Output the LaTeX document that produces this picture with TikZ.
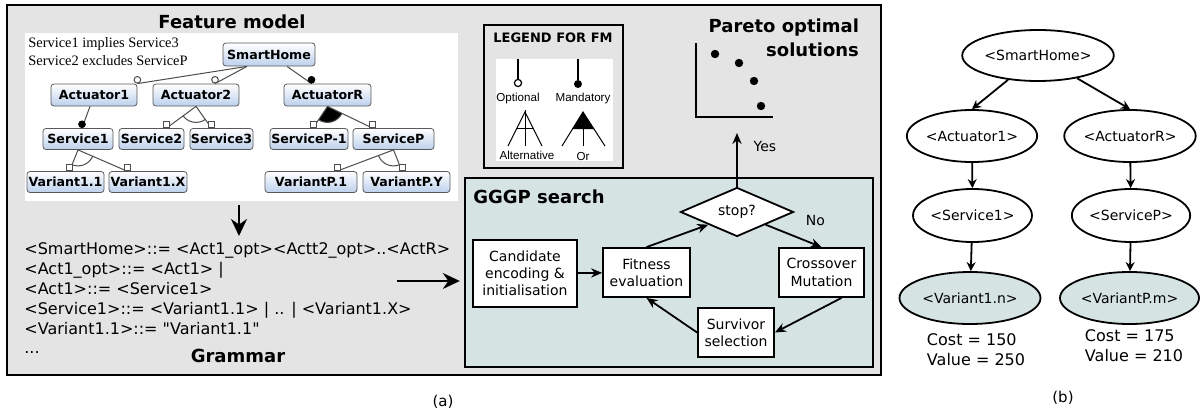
\documentclass[tikz,border=0pt]{standalone}
\usepackage{fontspec}
\setmainfont{DejaVu Sans}
\newfontfamily\constrfont{Liberation Serif}
\newfontfamily\legendfont{Liberation Sans}
\usepackage{tikz}
\usetikzlibrary{shapes.geometric,arrows.meta,calc,positioning}

\definecolor{framegray}{HTML}{E4E4E4}
\definecolor{searchfill}{HTML}{D6E3E3}
\definecolor{fmblue}{HTML}{BCD0EC}
\definecolor{fmedge}{HTML}{4D4D4D}

\tikzset{
  feat/.style={draw=black!65, rounded corners=1.5pt, top color=white, bottom color=fmblue,
    font=\bfseries\fontsize{6.3}{7}\selectfont, inner xsep=0pt, inner ysep=0pt, minimum height=10.5pt},
  fmline/.style={draw=fmedge, line width=0.5pt},
  optc/.style={circle, draw=fmedge, fill=white, line width=0.5pt, inner sep=0pt, minimum size=3.3pt, anchor=south},
  mandc/.style={optc, fill=black, draw=black},
  fmsq/.style={rectangle, draw=fmedge, fill=white, line width=0.5pt, inner sep=0pt, minimum size=3pt, anchor=south},
  title/.style={font=\bfseries\fontsize{9}{12}\selectfont},
  flow/.style={draw, line width=0.9pt, fill=white, align=center, font=\fontsize{7}{8.6}\selectfont, inner sep=1pt},
  flowarr/.style={-{Stealth[length=5.5pt,width=4.6pt]}, line width=0.9pt},
  bigarr/.style={-{Stealth[length=8.5pt,width=8pt]}, line width=0.9pt},
  deriv/.style={ellipse, draw, line width=0.9pt, fill=white, inner sep=0pt, font=\fontsize{7}{8.4}\selectfont},
  leaf/.style={deriv, fill=searchfill},
  treearr/.style={-{Stealth[length=4.5pt,width=4.5pt]}, line width=0.9pt},
  legtxt/.style={font=\legendfont\fontsize{5.8}{7}\selectfont, inner sep=0pt},
}

% arc (alternative) or filled sector (or) under a parent, then the two legs
\newcommand{\fmgroup}[4][draw]{%
  \begin{scope}
    \clip (#2) -- (#3) -- (#4) -- cycle;
    \path[fmline, #1] (#2) circle[radius=8pt];
  \end{scope}
  \draw[fmline] (#2) -- (#3) node[fmsq] {};
  \draw[fmline] (#2) -- (#4) node[fmsq] {};
}

\begin{document}
\lineskiplimit=-10pt
\begin{tikzpicture}[x=0.5pt, y=-0.5pt]
\useasboundingbox (0,0) rectangle (1200,412);

% part (a)
\draw[line width=1.2pt, fill=framegray] (7,5) rectangle (881,375);
\node[fill=white, minimum width=216.5pt, minimum height=84pt, inner sep=0pt] (fmarea) at (241.5,117) {};
\node[title] (fmtitle) at (232,22) {Feature model};
\node[font=\constrfont\fontsize{7.2}{9}\selectfont, align=left, anchor=west, inner sep=0pt] (constr) at (28,52)
  {Service1 implies Service3\\Service2 excludes ServiceP};

% feature model
\node[feat, minimum width=46pt, minimum height=11.5pt] (home) at (269,54.5) {SmartHome};
\node[feat, minimum width=43pt, minimum height=11pt] (act1) at (94,95) {Actuator1};
\node[feat, minimum width=43pt, minimum height=11pt] (act2) at (196,95) {Actuator2};
\node[feat, minimum width=43.5pt, minimum height=11pt] (actR) at (327.5,95) {ActuatorR};
\node[feat, minimum width=35pt] (srv1) at (78,139) {Service1};
\node[feat, minimum width=32.5pt] (srv2) at (151.5,139) {Service2};
\node[feat, minimum width=31.5pt] (srv3) at (221.5,139) {Service3};
\node[feat, minimum width=39pt] (srvP1) at (309,139) {ServiceP-1};
\node[feat, minimum width=40.5pt] (srvP) at (393.5,139) {ServiceP};
\node[feat, minimum width=38.5pt] (var11) at (65.5,182) {Variant1.1};
\node[feat, minimum width=39pt] (var1X) at (148,182) {Variant1.X};
\node[feat, minimum width=46pt] (varP1) at (311,182) {VariantP.1};
\node[feat, minimum width=43.5pt] (varPY) at (406.5,182) {VariantP.Y};

\draw[fmline] ($(home.south)+(-22,0)$) -- (act1.north east) node[optc] {};
\draw[fmline] ($(home.south)+(-22,0)$) -- ($(act2.north)+(19,0)$) node[optc] {};
\draw[fmline] ($(home.south)+(18,0)$) -- ($(actR.north)+(-16,0)$) node[mandc] {};
\draw[fmline] ($(act1.south)+(-4,0)$) -- ($(srv1.north)+(4,0)$) node[mandc] {};

\coordinate (a2l) at ($(srv2.north)+(15,0)$);
\coordinate (a2r) at ($(srv3.north)+(-10,0)$);
\coordinate (aRl) at ($(srvP1.north)+(4,0)$);
\coordinate (aRr) at ($(srvP.north)+(-21,0)$);
\coordinate (s1l) at ($(var11.north)+(4,0)$);
\coordinate (s1r) at ($(var1X.north)+(-21,0)$);
\coordinate (sPl) at ($(varP1.north)+(26,0)$);
\coordinate (sPr) at ($(varPY.north)+(-4.5,0)$);
\fmgroup{act2.south}{a2l}{a2r}
\fmgroup[fill=black]{actR.south}{aRl}{aRr}
\fmgroup{srv1.south}{s1l}{s1r}
\fmgroup{srvP.south}{sPl}{sPr}

% legend
\node[draw, line width=0.8pt, minimum width=69.5pt, minimum height=71.5pt, inner sep=0pt] (legend) at (553.5,96.5) {};
\node[font=\bfseries\fontsize{6.5}{7}\selectfont] (legtitle) at (553,38) {LEGEND FOR FM};
\fill[white] (496,59) rectangle (613,161);
\draw[line width=0.6pt] (518,59) -- (518,79);
\draw[line width=0.6pt, fill=white] (518,83) circle[radius=1.8pt];
\draw[line width=0.6pt] (578,59) -- (578,80);
\fill (578,84) circle[radius=2pt];
\node[legtxt] (legopt) at (518,98) {Optional};
\node[legtxt] (legmand) at (583,98) {Mandatory};
\draw[line width=0.5pt] (508,146) -- (525,112) -- (542,146);
\draw[line width=0.5pt] (525,110) -- (525,146);
\draw[line width=0.5pt] (517,128) -- (533,128);
\draw[line width=0.5pt] (562,146) -- (583,112) -- (605,146);
\fill (583,112) -- (572.5,129) -- (594,129) -- cycle;
\draw[line width=0.5pt] (583,129) -- (583,146);
\node[legtxt] (legalt) at (527,155) {Alternative};
\node[legtxt] (legor) at (583,157) {Or};

% pareto front
\node[title, align=right, anchor=east] (paretotitle) at (866,38) {Pareto optimal\\solutions};
\draw[line width=1.1pt] (696,43) -- (696,117) -- (773,117);
\foreach \px/\py in {715/54, 739/63, 754/81, 761/106}
  \fill (\px,\py) circle[radius=2.1pt];

% grammar
\node[anchor=west, align=left, inner sep=0pt, font=\fontsize{8}{10}\selectfont] (gram) at (24,288.5)
  {<SmartHome>::= <Act1\_opt><Actt2\_opt>..<ActR>\\
   <Act1\_opt>::= <Act1> |\\
   <Act1>::= <Service1>\\
   <Service1>::= <Variant1.1> | .. | <Variant1.X>\\
   <Variant1.1>::= \textquotedbl Variant1.1\textquotedbl};
\node[anchor=west, inner sep=0pt, font=\fontsize{8}{9}\selectfont] (gdots) at (24,353) {...};
\node[title] (gramtitle) at (238,356) {Grammar};

% GGGP search
\node[draw, line width=1.2pt, fill=searchfill, minimum width=204pt, minimum height=94.5pt, inner sep=0pt] (gggp) at (669,272.5) {};
\node[title, anchor=west, inner sep=0pt] (ggtitle) at (473,197) {GGGP search};
\node[flow, minimum width=52pt, minimum height=33.5pt] (cand) at (525,273.5) {Candidate\\encoding \&\\initialisation};
\node[flow, minimum width=43.5pt, minimum height=24.5pt] (fit) at (646.5,272.5) {Fitness\\evaluation};
\node[flow, diamond, aspect=2.3, minimum width=56.5pt, minimum height=24.5pt, inner sep=0pt] (stop) at (737,212) {stop?};
\node[flow, minimum width=42.5pt, minimum height=24.5pt] (cross) at (821.5,272.5) {Crossover\\Mutation};
\node[flow, minimum width=38pt, minimum height=24.5pt] (surv) at (736,332.5) {Survivor\\selection};

\draw[flowarr] (cand) -- (fit);
\draw[flowarr] (fit.north) -- (stop.south west);
\draw[flowarr] (stop.south east) -- (cross.north)
  node[pos=0.5, above right, xshift=2.4pt, yshift=1.5pt, font=\fontsize{7}{8}\selectfont] {No};
\draw[flowarr] ($(cross.south)+(20,0)$) -- (surv.east);
\draw[flowarr] (surv.west) -- (fit.south);
\coordinate (front) at (737,133);
\draw[flowarr] (stop.north) -- (front)
  node[pos=0.75, right=4.5pt, font=\fontsize{7}{8}\selectfont] {Yes};

\coordinate (gtop) at (239,236);
\draw[bigarr] ($(fmarea.south -| gtop)+(0,4)$) -- (gtop);
\coordinate (gin) at (397,281);
\draw[bigarr, shorten >=2pt] (gin) -- (gin -| gggp.west);

\node[font=\fontsize{7.5}{9}\selectfont] (capa) at (443,402) {(a)};

% part (b): derivation tree
\node[deriv, minimum width=70pt, minimum height=25.5pt] (rhome) at (1038,55.5) {<SmartHome>};
\node[deriv, minimum width=63pt, minimum height=26pt] (ract1) at (972,136) {<Actuator1>};
\node[deriv, minimum width=63pt, minimum height=26pt] (ractR) at (1130,136) {<ActuatorR>};
\node[deriv, minimum width=56.5pt, minimum height=26.5pt] (rsrv1) at (972.5,215.5) {<Service1>};
\node[deriv, minimum width=56pt, minimum height=26.5pt] (rsrvP) at (1131,215.5) {<ServiceP>};
\node[leaf, minimum width=70.5pt, minimum height=26pt] (rvar1) at (970,298) {<Variant1.n>};
\node[leaf, minimum width=69.5pt, minimum height=26pt] (rvarP) at (1129.5,298) {<VariantP.m>};

\draw[treearr] (rhome) -- (ract1.north);
\draw[treearr] (rhome) -- (ractR.north);
\draw[treearr] (ract1) -- (rsrv1);
\draw[treearr] (ractR) -- (rsrvP);
\draw[treearr] (rsrv1) -- (rvar1);
\draw[treearr] (rsrvP) -- (rvarP);

\node[align=left, font=\fontsize{8}{10}\selectfont] (cost1) at (976,350) {Cost = 150\\Value = 250};
\node[align=left, font=\fontsize{8}{10}\selectfont] (cost2) at (1134,346) {Cost = 175\\Value = 210};
\node[font=\fontsize{7.5}{9}\selectfont] (capb) at (1063,398) {(b)};
\end{tikzpicture}
\end{document}
